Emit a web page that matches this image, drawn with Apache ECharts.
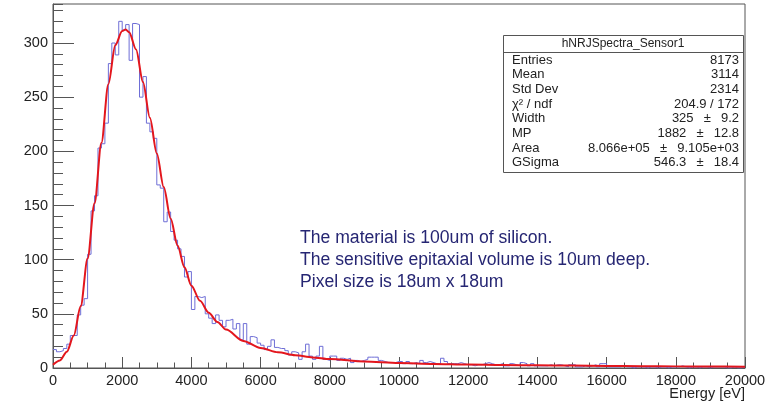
<!DOCTYPE html>
<html><head><meta charset="utf-8">
<script src="https://cdn.jsdelivr.net/npm/echarts@6/dist/echarts.min.js"></script>
<style>html,body{margin:0;padding:0;background:#fff}#c{width:780px;height:404px}</style>
</head><body><div id="c"></div>
<script>
// Histogram: 200 bins of 100 eV from 0 to 20000 eV
const binStart = 0;
const binWidth = 100;
const counts = [
  17,15,16,18,22,30,30,49,58,64,
  105,145,159,203,207,226,281,300,289,320,
  312,317,284,318,317,250,269,226,218,212,
  169,166,135,144,126,118,110,103,84,89,
  54,66,65,66,50,46,41,49,44,38,
  44,45,36,41,26,41,22,29,28,23,
  21,17,20,26,19,18,18,16,12,15,
  14,8,15,22,11,8,11,20,8,7,
  11,11,7,9,8,9,5,7,6,7,
  8,10,10,10,7,6,5,5,5,6,
  6,4,6,4,5,4,7,5,6,5,
  4,4,9,6,4,4,4,5,4,3,
  3,2,3,3,4,5,4,3,3,4,
  2,2,4,3,2,5,4,2,4,2,
  2,2,2,3,2,3,3,2,1,3,
  3,1,1,2,1,2,3,1,4,4,
  1,1,1,1,2,1,1,0,1,1,
  1,0,1,1,0,1,1,0,1,1,
  1,2,1,0,1,1,0,1,1,0,
  1,1,1,1,0,0,1,0,0,1
];
// Fit curve
const fitE = [0,200,400,600,800,1000,1200,1400,1600,1800,2000,2100,2200,2400,2600,2800,3000,3200,3400,3600,3800,4000,4250,4500,4750,5000,5500,6000,6500,7000,7500,8000,9000,10000,11000,12000,13000,14000,15000,16000,17000,18000,19000,20000];
const fitY = [3,7,15,30,57,101,152,208,262,298,311,312.5,310,294,264,231,198,167,138,113,93,76,62,51,42.5,35.5,25,18.5,14.5,11.8,9.8,8.2,6,4.6,3.8,3.2,2.8,2.5,2.2,1.9,1.7,1.5,1.3,1.2];

const xMin = 0, xMax = 20000, xStep = 2000;
const yMin = 0, yMax = 336, yStep = 50, yMinorStep = 10;

const statsTitle = 'hNRJSpectra_Sensor1';
const statsLabels = ['Entries','Mean','Std Dev','\u03C7\u00B2 / ndf','Width','MP','Area','GSigma'];
const statsValues = ['8173','3114','2314','204.9 / 172','325 \u00B1 9.2','1882 \u00B1 12.8','8.066e+05 \u00B1 9.105e+03','546.3 \u00B1 18.4'];
const notes = ['The material is 100um of silicon.','The sensitive epitaxial volume is 10um deep.','Pixel size is 18um x 18um'];
const xTitle = 'Energy [eV]';

const histData = counts.map((v, i) => [binStart + i * binWidth, v]);
histData.push([binStart + counts.length * binWidth, counts[counts.length - 1]]);
const fitData = fitE.map((e, i) => [e, fitY[i]]);

const FONT = '"Liberation Sans", Arial, Helvetica, sans-serif';
const chart = echarts.init(document.getElementById('c'), null, {renderer: 'canvas'});

const gridL = 53, gridR = 35, gridT = 4, gridB = 36;
const boxX = 503, boxY = 35, boxW = 240, boxH = 137, rowH = 14.7;

const graphics = [];
graphics.push({type:'rect', shape:{x:boxX+0.5, y:boxY+0.5, width:boxW, height:boxH}, style:{fill:'#fff', stroke:'#555', lineWidth:1}, z:100});
graphics.push({type:'line', shape:{x1:boxX+0.5, y1:boxY+17.5, x2:boxX+boxW+0.5, y2:boxY+17.5}, style:{stroke:'#555', lineWidth:1}, z:101});
graphics.push({type:'text', x:boxX+boxW/2, y:boxY+9, style:{text:statsTitle, font:'12px '+FONT, fill:'#222', textAlign:'center', textVerticalAlign:'middle'}, z:101});
statsLabels.forEach((l, i) => {
  const y = boxY + 25 + i * rowH;
  const val = statsValues[i].replace(' \u00B1 ', ' \u2002\u00B1\u2002 ');
  graphics.push({type:'text', x:boxX+9, y:y, style:{text:l, font:'13px '+FONT, fill:'#222', textAlign:'left', textVerticalAlign:'middle'}, z:101});
  graphics.push({type:'text', x:boxX+boxW-4, y:y, style:{text:val, font:'13px '+FONT, fill:'#222', textAlign:'right', textVerticalAlign:'middle'}, z:101});
});
notes.forEach((t, i) => {
  graphics.push({type:'text', x:300, y:238 + i * 22, style:{text:t, font:'17.6px '+FONT, fill:'#262673', textAlign:'left', textVerticalAlign:'middle'}, z:101});
});
graphics.push({type:'text', x:745, y:394, style:{text:xTitle, font:'14.5px '+FONT, fill:'#222', textAlign:'right', textVerticalAlign:'middle'}, z:101});

chart.setOption({
  animation: false,
  backgroundColor: '#fff',
  grid: {left: gridL, right: gridR, top: gridT, bottom: gridB, show: true, borderColor: '#555', borderWidth: 1, backgroundColor: 'transparent'},
  xAxis: {
    type: 'value', min: xMin, max: xMax, interval: xStep,
    axisLine: {show: true, lineStyle: {color: '#555', width: 1}},
    axisTick: {show: true, inside: true, length: 11, lineStyle: {color: '#555'}},
    minorTick: {show: true, splitNumber: 4, length: 5.5, lineStyle: {color: '#555'}},
    splitLine: {show: false},
    axisLabel: {show: true, margin: 5, color: '#222', fontSize: 14.5, fontFamily: FONT, showMinLabel: true, showMaxLabel: true, formatter: v => String(v)}
  },
  yAxis: [{
    type: 'value', min: yMin, max: yMax, interval: yStep, position: 'left',
    axisLine: {show: true, lineStyle: {color: '#555', width: 1}},
    axisTick: {show: true, inside: true, length: 21, lineStyle: {color: '#555'}},
    splitLine: {show: false},
    axisLabel: {show: true, margin: 5, color: '#222', fontSize: 14.5, fontFamily: FONT, showMaxLabel: false, formatter: v => String(v)}
  }, {
    type: 'value', min: yMin, max: yMax, interval: yMinorStep, position: 'left', offset: 0,
    axisLine: {show: false},
    axisTick: {show: true, inside: true, length: 10, lineStyle: {color: '#555'}},
    splitLine: {show: false},
    axisLabel: {show: false}
  }],
  series: [{
    type: 'line', name: 'hist', data: histData, step: 'end', showSymbol: false, symbol: 'none',
    lineStyle: {color: '#6e6ed6', width: 1}, yAxisIndex: 0, z: 2, silent: true
  }, {
    type: 'line', name: 'fit', data: fitData, smooth: 0.3, smoothMonotone: 'x', showSymbol: false, symbol: 'none',
    lineStyle: {color: '#e3161d', width: 2}, yAxisIndex: 0, z: 3, silent: true
  }],
  graphic: graphics
});
</script></body></html>
